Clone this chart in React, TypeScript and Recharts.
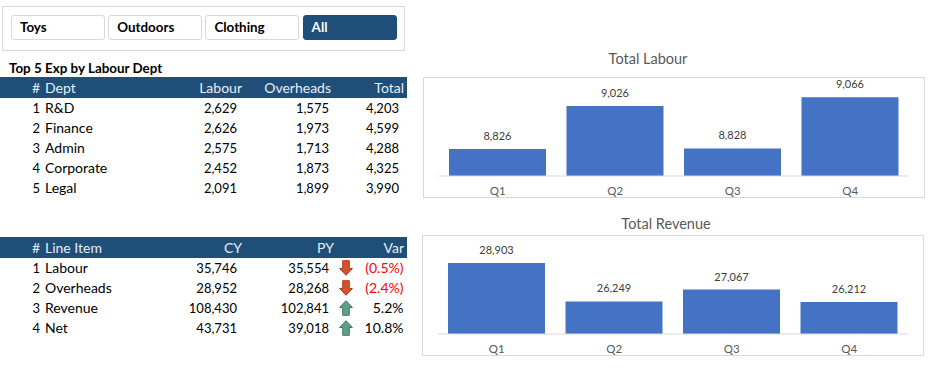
import React from "react";
import { BarChart, Bar, XAxis, YAxis, LabelList } from "recharts";

const FONT = "Lato, 'Open Sans', sans-serif";
const NAVY = "#1f4e79";

const slicers = ["Toys", "Outdoors", "Clothing", "All"];
const activeSlicer = "All";

const quarters = ["Q1", "Q2", "Q3", "Q4"];
const labourValues = [8826, 9026, 8828, 9066];
const revenueValues = [28903, 26249, 27067, 26212];

const deptNames = ["R&D", "Finance", "Admin", "Corporate", "Legal"];
const deptLabour = ["2,629", "2,626", "2,575", "2,452", "2,091"];
const deptOverheads = ["1,575", "1,973", "1,713", "1,873", "1,899"];
const deptTotal = ["4,203", "4,599", "4,288", "4,325", "3,990"];

const lineNames = ["Labour", "Overheads", "Revenue", "Net"];
const lineCY = ["35,746", "28,952", "108,430", "43,731"];
const linePY = ["35,554", "28,268", "102,841", "39,018"];
const lineVar = ["(0.5%)", "(2.4%)", "5.2%", "10.8%"];
const lineUp = [false, false, true, true];

const TEXT_SIZE = 14;
const NUM_SIZE = 13;

// absolute-positioned cell, x is the left or right edge depending on align
function Cell({ x, y, align = "left", color = "#000", bold, size = TEXT_SIZE, children }: any) {
  const pos = align === "right" ? { right: 932 - x } : { left: x };
  return (
    <div
      style={{
        position: "absolute",
        top: y - 10,
        height: 20,
        lineHeight: "20px",
        whiteSpace: "nowrap",
        fontSize: size,
        fontWeight: bold ? 700 : 400,
        color,
        ...pos,
      }}
    >
      {children}
    </div>
  );
}

function Arrow({ up, y }: { up: boolean; y: number }) {
  const fill = up ? "#5f9e88" : "#d4532c";
  const stroke = up ? "#3f7a66" : "#a93f20";
  return (
    <svg
      width={14}
      height={16}
      viewBox="0 0 14 16"
      style={{ position: "absolute", left: 339, top: y - 8 }}
    >
      <path
        d={up ? "M7 .7 13.4 7.5H10.3V15.3H3.7V7.5H.6Z" : "M7 15.3 13.4 8.5H10.3V.7H3.7V8.5H.6Z"}
        fill={fill}
        stroke={stroke}
        strokeWidth={1}
      />
    </svg>
  );
}

function Column({ left, top, title, titleX, titleY, values, domain, frameH, plotTop }: any) {
  const data = quarters.map((q, i) => ({ q, value: values[i] }));
  return (
    <>
      <div
        style={{
          position: "absolute",
          left: titleX - 100,
          width: 200,
          top: titleY - 10,
          textAlign: "center",
          fontSize: 14.5,
          lineHeight: "20px",
          color: "#595959",
        }}
      >
        {title}
      </div>
      <div
        style={{
          position: "absolute",
          left,
          top,
          width: 502,
          height: frameH,
          boxSizing: "border-box",
          border: "1px solid #d9d9d9",
          background: "#fff",
        }}
      >
        <BarChart
          width={500}
          height={frameH - 2}
          data={data}
          margin={{ top: plotTop, right: 15, left: 15, bottom: 0 }}
        >
          <XAxis
            dataKey="q"
            height={21}
            tickLine={false}
            tickMargin={5}
            axisLine={{ stroke: "#d9d9d9" }}
            tick={{ fontSize: 11.5, fill: "#595959", fontFamily: FONT }}
            interval={0}
          />
          <YAxis hide domain={domain} />
          <Bar dataKey="value" fill="#4472c4" barSize={97} isAnimationActive={false}>
            <LabelList
              dataKey="value"
              position="top"
              offset={9}
              formatter={(v: number) => v.toLocaleString("en-US")}
              style={{ fontSize: 11, fill: "#404040", fontFamily: FONT }}
            />
          </Bar>
        </BarChart>
      </div>
    </>
  );
}

function Header({ top, cells }: { top: number; cells: any[] }) {
  return (
    <>
      <div style={{ position: "absolute", left: 0, top, width: 407, height: 21, background: NAVY }} />
      {cells.map((c) => (
        <Cell key={c.t} x={c.x} y={top + 10.5} align={c.align} color="#e8eef4">
          {c.t}
        </Cell>
      ))}
    </>
  );
}

export default function App() {
  return (
    <div
      style={{
        position: "absolute",
        left: 0,
        top: 0,
        width: 932,
        height: 370,
        overflow: "hidden",
        background: "#fff",
        fontFamily: FONT,
      }}
    >
      {/* slicer box */}
      <div
        style={{
          position: "absolute",
          left: 2,
          top: 6,
          width: 403,
          height: 45,
          boxSizing: "border-box",
          border: "1px solid #d9d9d9",
        }}
      />
      {slicers.map((s, i) => {
        const on = s === activeSlicer;
        return (
          <div
            key={s}
            style={{
              position: "absolute",
              left: 11 + i * 97.2,
              top: 15,
              width: 94,
              height: 25,
              boxSizing: "border-box",
              border: on ? `1px solid ${NAVY}` : "1px solid #d9d9d9",
              borderRadius: 3,
              background: on ? NAVY : "#fff",
              color: on ? "#fff" : "#000",
              fontWeight: 700,
              fontSize: 13.4,
              lineHeight: "23px",
              paddingLeft: 8,
            }}
          >
            {s}
          </div>
        );
      })}

      <Cell x={9} y={68} bold size={13.4}>
        Top 5 Exp by Labour Dept
      </Cell>

      <Header
        top={77}
        cells={[
          { t: "#", x: 40, align: "right" },
          { t: "Dept", x: 45 },
          { t: "Labour", x: 242, align: "right" },
          { t: "Overheads", x: 331, align: "right" },
          { t: "Total", x: 404, align: "right" },
        ]}
      />
      {deptNames.map((n, i) => {
        const y = 108 + i * 20;
        return (
          <React.Fragment key={n}>
            <Cell x={40} y={y} align="right" size={NUM_SIZE}>{i + 1}</Cell>
            <Cell x={45} y={y}>{n}</Cell>
            <Cell x={237} y={y} align="right" size={NUM_SIZE}>{deptLabour[i]}</Cell>
            <Cell x={329} y={y} align="right" size={NUM_SIZE}>{deptOverheads[i]}</Cell>
            <Cell x={399} y={y} align="right" size={NUM_SIZE}>{deptTotal[i]}</Cell>
          </React.Fragment>
        );
      })}

      <Header
        top={237}
        cells={[
          { t: "#", x: 40, align: "right" },
          { t: "Line Item", x: 45 },
          { t: "CY", x: 242, align: "right" },
          { t: "PY", x: 334, align: "right" },
          { t: "Var", x: 404, align: "right" },
        ]}
      />
      {lineNames.map((n, i) => {
        const y = 268 + i * 20;
        return (
          <React.Fragment key={n}>
            <Cell x={40} y={y} align="right" size={NUM_SIZE}>{i + 1}</Cell>
            <Cell x={45} y={y}>{n}</Cell>
            <Cell x={237} y={y} align="right" size={NUM_SIZE}>{lineCY[i]}</Cell>
            <Cell x={329} y={y} align="right" size={NUM_SIZE}>{linePY[i]}</Cell>
            <Arrow up={lineUp[i]} y={y} />
            <Cell x={403.5} y={y} align="right" color={lineUp[i] ? "#000" : "#ff0000"}>
              {lineVar[i]}
            </Cell>
          </React.Fragment>
        );
      })}

      <Column
        left={423}
        top={77}
        title="Total Labour"
        titleX={648}
        titleY={59}
        values={labourValues}
        domain={[8700, 9100]}
        frameH={121}
        plotTop={12}
      />
      <Column
        left={422}
        top={235}
        title="Total Revenue"
        titleX={666}
        titleY={224}
        values={revenueValues}
        domain={[24000, 30000]}
        frameH={121}
        plotTop={11}
      />
    </div>
  );
}
